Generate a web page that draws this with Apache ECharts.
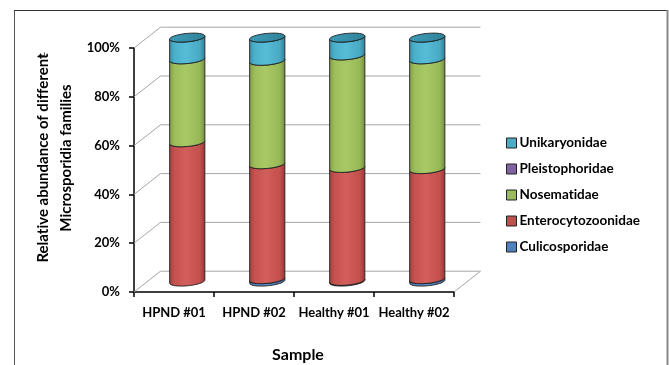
<!DOCTYPE html>
<html>
<head>
<meta charset="utf-8">
<script src="https://cdn.jsdelivr.net/npm/echarts@6/dist/echarts.min.js"></script>
<style>
  html, body { margin: 0; padding: 0; background: #fff; }
  #chart { width: 669px; height: 365px; }
</style>
</head>
<body>
<div id="chart"></div>
<script>
// Samples along the category axis
const categories = ['HPND #01', 'HPND #02', 'Healthy #01', 'Healthy #02'];

// Relative abundance (%) of each Microsporidia family per sample, bottom of the stack first
const culicosporidae     = [0.0, 1.0, 0.3, 1.0];
const enterocytozoonidae = [57.1, 47.1, 46.3, 45.1];
const nosematidae        = [34.0, 42.4, 46.1, 45.0];
const pleistophoridae    = [0.0, 0.0, 0.0, 0.0];
const unikaryonidae      = [8.9, 9.5, 7.3, 8.9];

// Value-axis ticks
const yTicks = [0, 20, 40, 60, 80, 100];

// Legend order (top to bottom)
const legendOrder = ['Unikaryonidae', 'Pleistophoridae', 'Nosematidae', 'Enterocytozoonidae', 'Culicosporidae'];

// Stack order (bottom to top)
const families = [
  { name: 'Culicosporidae',     values: culicosporidae },
  { name: 'Enterocytozoonidae', values: enterocytozoonidae },
  { name: 'Pleistophoridae',    values: pleistophoridae },
  { name: 'Nosematidae',        values: nosematidae },
  { name: 'Unikaryonidae',      values: unikaryonidae }
];

// ---- styling ----
const FONT = 'Lato';
const DEPTH_X = 26.5;     // pseudo-3D depth offset of the back wall
const DEPTH_Y = -20.8;
const BAR_RATIO = 0.44;   // cylinder width relative to the category band
const RY = 4.2;           // vertical radius of the cylinder ellipses
const SHEAR = -0.09;      // slight perspective tilt of the ellipses
const WALL = '#a6a6a6';

const palette = {
  Culicosporidae:     { base: '#4f81bd', body: ['#3d6698', '#4f81bd', '#5d8fcb', '#4a7bb5', '#365b88'] },
  Enterocytozoonidae: { base: '#c0504d', body: ['#a13f3c', '#c6524f', '#d25f5c', '#c44f4c', '#933734'] },
  Pleistophoridae:    { base: '#8064a2', body: ['#664f84', '#8266a5', '#8e72b1', '#7d619e', '#5b4676'] },
  Nosematidae:        { base: '#9bbb59', body: ['#7f9c45', '#9dbd5b', '#a9c866', '#98b856', '#738d3d'] },
  Unikaryonidae:      { base: '#4bacc6', body: ['#3a8fa7', '#4bb0cb', '#57bdd7', '#48a9c3', '#337f95'] }
};

// keep "t" and "i" as separate glyphs
const noLig = s => s.replace(/ti/g, 't\u200Ci').replace(/ff/g, 'f\u200Cf').replace(/fi/g, 'f\u200Ci');

function bodyGradient(c) {
  return new echarts.graphic.LinearGradient(0, 0, 1, 0, [
    { offset: 0, color: c[0] },
    { offset: 0.15, color: c[1] },
    { offset: 0.45, color: c[2] },
    { offset: 0.85, color: c[3] },
    { offset: 1, color: c[4] }
  ]);
}
function topGradient() {
  return new echarts.graphic.LinearGradient(0, 0, 1, 1, [
    { offset: 0, color: '#3f9cb6' },
    { offset: 1, color: '#2f8099' }
  ]);
}

// Cumulative stack: [category, base, top]
const stackBase = categories.map(() => 0);
const stacked = families.map(f => {
  const rows = f.values.map((v, i) => {
    const b = stackBase[i];
    stackBase[i] = b + v;
    return [i, b, b + v];
  });
  return { name: f.name, rows };
});

function cylinderRender(name) {
  const colors = palette[name];
  return function (params, api) {
    const c = api.value(0), base = api.value(1), top = api.value(2);
    if (!(top - base > 0)) return null;
    const pb = api.coord([c, base]);
    const pt = api.coord([c, top]);
    const bw = api.size([1, 0])[0] * BAR_RATIO;
    const rx = bw / 2;
    const cx = pb[0] + DEPTH_X / 2;
    const yb = pb[1] + DEPTH_Y / 2;
    const yt = pt[1] + DEPTH_Y / 2;
    const pt2 = (theta, cy) => {
      const x = cx + rx * Math.cos(theta);
      return [x, cy + RY * Math.sin(theta) + SHEAR * (x - cx)];
    };
    const N = 24;
    const pts = [];
    // bottom front arc, left -> right
    for (let k = 0; k <= N; k++) pts.push(pt2(Math.PI - Math.PI * k / N, yb));
    // top front arc, right -> left
    for (let k = 0; k <= N; k++) pts.push(pt2(Math.PI * k / N, yt));
    const children = [{
      type: 'polygon',
      shape: { points: pts },
      style: { fill: bodyGradient(colors.body), stroke: '#1e1e1e', lineWidth: 0.9 }
    }];
    if (top >= 99.999) {
      const ring = [];
      for (let k = 0; k < 2 * N; k++) ring.push(pt2(2 * Math.PI * k / (2 * N), yt));
      children.push({
        type: 'polygon',
        shape: { points: ring },
        style: { fill: topGradient(), stroke: '#1e1e1e', lineWidth: 0.9 }
      });
    }
    return { type: 'group', children };
  };
}

// Back wall, side wall and floor edges
function wallRender(params, api) {
  if (params.dataIndex !== 0) return null;
  const cs = params.coordSys;
  const left = cs.x, right = cs.x + cs.width;
  const children = [];
  yTicks.forEach(v => {
    const y = api.coord([0, v])[1];
    children.push({ type: 'line', shape: { x1: left, y1: y, x2: left + DEPTH_X, y2: y + DEPTH_Y },
      style: { stroke: WALL, lineWidth: 1 } });
    children.push({ type: 'line', shape: { x1: left + DEPTH_X, y1: y + DEPTH_Y, x2: right + DEPTH_X, y2: y + DEPTH_Y },
      style: { stroke: WALL, lineWidth: 1 } });
  });
  const y0 = api.coord([0, yTicks[0]])[1];
  children.push({ type: 'line', shape: { x1: right, y1: y0, x2: right + DEPTH_X, y2: y0 + DEPTH_Y },
    style: { stroke: WALL, lineWidth: 1 } });
  return { type: 'group', children };
}

const series = [{
  type: 'custom',
  name: 'walls',
  silent: true,
  z: 1,
  renderItem: wallRender,
  data: [[0, 0]],
  encode: { x: 0, y: 1 }
}];
stacked.forEach(s => {
  series.push({
    type: 'custom',
    name: s.name,
    z: 3,
    itemStyle: { color: palette[s.name].base },
    renderItem: cylinderRender(s.name),
    encode: { x: 0, y: [1, 2] },
    data: s.rows
  });
});

const chart = echarts.init(document.getElementById('chart'), null, { renderer: 'canvas' });
chart.setOption({
  animation: false,
  backgroundColor: '#fff',
  grid: { left: 134, right: 215, top: 48, bottom: 73 },
  xAxis: {
    type: 'category',
    data: categories,
    axisLine: { lineStyle: { color: '#000', width: 1.5 } },
    axisTick: { show: true, length: 5, interval: 0, alignWithLabel: false, lineStyle: { color: '#000', width: 1.5 } },
    axisLabel: { color: '#000', fontFamily: FONT, fontWeight: 'bold', fontSize: 13, margin: 14, interval: 0 },
    splitLine: { show: false }
  },
  yAxis: {
    type: 'value',
    min: 0, max: 100, interval: 20,
    axisLine: { show: true, lineStyle: { color: '#000', width: 1.5 } },
    axisTick: { show: true, length: 5, lineStyle: { color: '#000', width: 1.5 } },
    axisLabel: { color: '#000', fontFamily: FONT, fontWeight: 'bold', fontSize: 13, margin: 14, formatter: '{value}%' },
    splitLine: { show: false }
  },
  legend: {
    orient: 'vertical',
    left: 506, top: 136,
    padding: 0,
    icon: 'rect',
    itemWidth: 10, itemHeight: 10,
    itemGap: 12,
    itemStyle: { borderColor: '#222', borderWidth: 1 },
    formatter: noLig,
    textStyle: { color: '#000', fontFamily: FONT, fontWeight: 'bold', fontSize: 13.5, lineHeight: 14, padding: [0, 0, 0, -2] },
    data: legendOrder
  },
  graphic: [
    { type: 'line', shape: { x1: 14.5, y1: 10, x2: 14.5, y2: 365 }, style: { stroke: '#555', lineWidth: 1 } },
    { type: 'line', shape: { x1: 14, y1: 10.5, x2: 668, y2: 10.5 }, style: { stroke: '#333', lineWidth: 1 } },
    { type: 'line', shape: { x1: 667.5, y1: 10, x2: 667.5, y2: 365 }, style: { stroke: '#888', lineWidth: 2 } },
    { type: 'text', left: 38, top: 51, style: { text: '↵', fill: '#222', font: '10px "DejaVu Sans"' } },
    { type: 'text', x: 55, y: 158, rotation: Math.PI / 2,
      style: { text: noLig('Relative abundance of different\nMicrosporidia families'), fill: '#000',
        font: 'bold 15px Lato', textAlign: 'center', textVerticalAlign: 'middle', lineHeight: 23 } },
    { type: 'text', x: 298, y: 355,
      style: { text: 'Sample', fill: '#000', font: 'bold 16px Lato', textAlign: 'center', textVerticalAlign: 'middle' } }
  ],
  series
});
</script>
</body>
</html>
